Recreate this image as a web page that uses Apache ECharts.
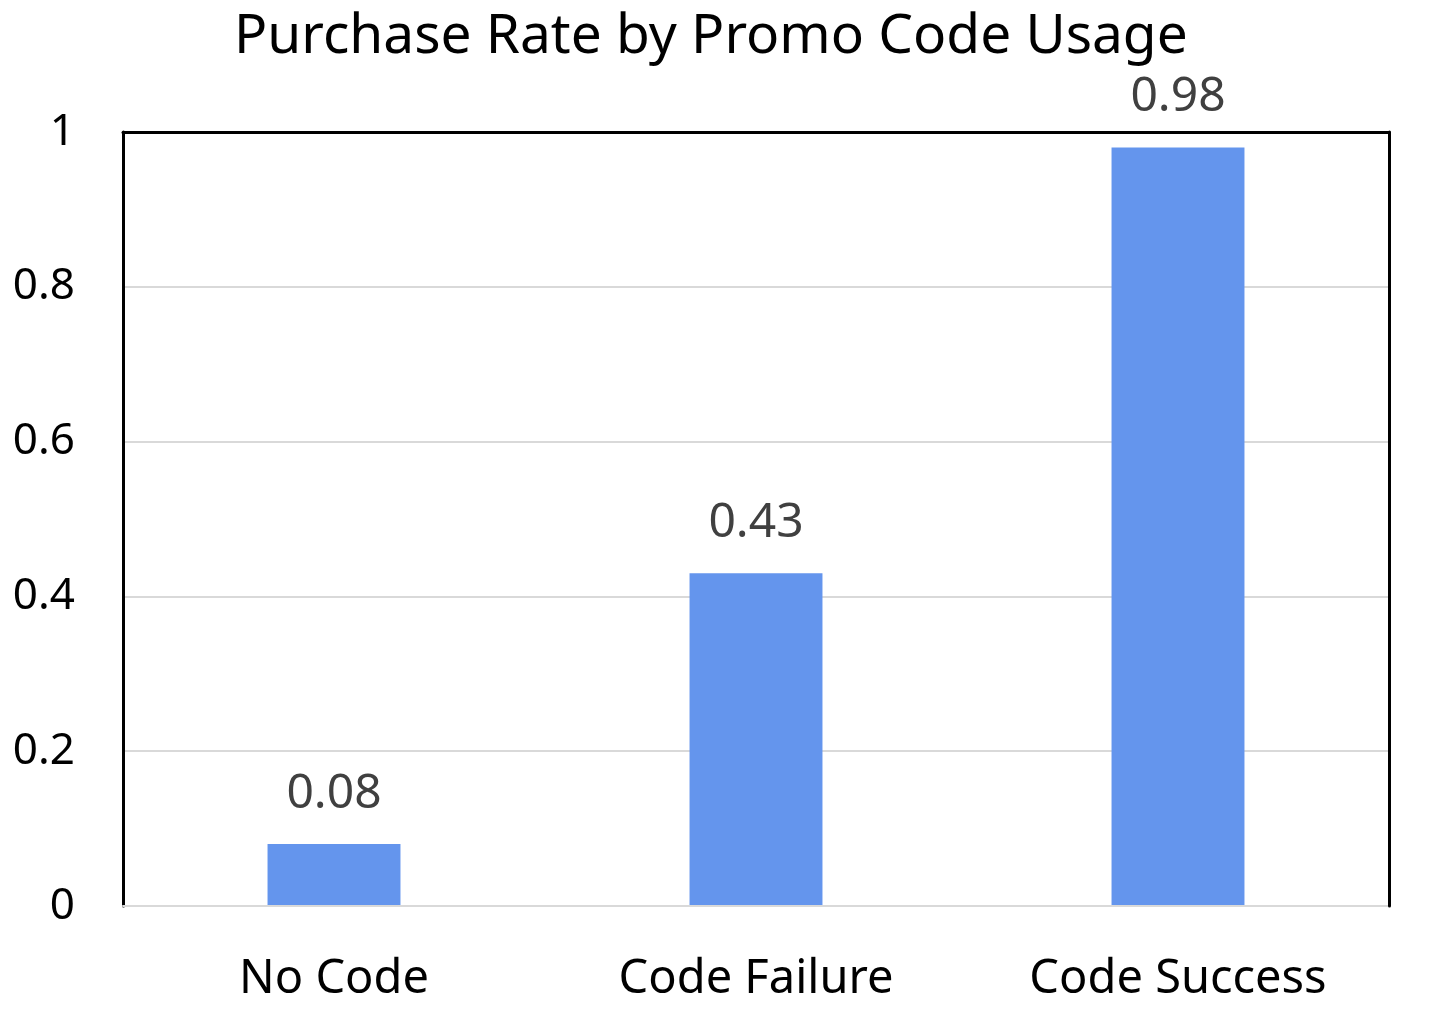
<!DOCTYPE html>
<html>
<head>
<meta charset="utf-8">
<script src="https://cdn.jsdelivr.net/npm/echarts@6/dist/echarts.min.js"></script>
<style>
html,body{margin:0;padding:0;background:#fff;}
#chart{width:1436px;height:1034px;}
</style>
</head>
<body>
<div id="chart"></div>
<script>
const titleText = 'Purchase Rate by Promo Code Usage';
const categories = ['No Code', 'Code Failure', 'Code Success'];
const purchaseRate = [0.08, 0.43, 0.98];
const yTicks = { min: 0, max: 1, interval: 0.2 };

const FONT = '"Noto Sans", "Open Sans", sans-serif';
const chart = echarts.init(document.getElementById('chart'), null, {renderer: 'canvas'});
chart.setOption({
  backgroundColor: '#ffffff',
  animation: false,
  title: {
    text: titleText,
    left: 229,
    top: 5,
    textStyle: { fontFamily: FONT, fontSize: 55, fontWeight: 'normal', color: '#000' }
  },
  grid: { left: 123, right: 47, top: 132, bottom: 128, containLabel: false },
  xAxis: [{
    type: 'category',
    data: categories,
    position: 'bottom',
    axisLine: { show: true, onZero: false, lineStyle: { color: '#d9d9d9', width: 2 } },
    axisTick: { show: false },
    axisLabel: { fontFamily: FONT, fontSize: 47, color: '#000', margin: 50 },
    z: 5
  }, {
    type: 'category',
    data: categories,
    position: 'top',
    axisLine: { show: true, onZero: false, lineStyle: { color: '#000', width: 3 } },
    axisTick: { show: false },
    axisLabel: { show: false },
    z: 10
  }],
  yAxis: [{
    type: 'value',
    min: yTicks.min, max: yTicks.max, interval: yTicks.interval,
    position: 'left',
    axisLine: { show: true, onZero: false, lineStyle: { color: '#000', width: 3 } },
    axisTick: { show: false },
    axisLabel: { fontFamily: FONT, fontSize: 44, color: '#000', margin: 48 },
    splitLine: { show: true, lineStyle: { color: '#d9d9d9', width: 2 } }
  }, {
    type: 'value',
    min: yTicks.min, max: yTicks.max, interval: yTicks.interval,
    position: 'right',
    axisLine: { show: true, onZero: false, lineStyle: { color: '#000', width: 3 } },
    axisTick: { show: false },
    axisLabel: { show: false },
    splitLine: { show: false },
    z: 10
  }],
  series: [{
    type: 'bar',
    data: purchaseRate,
    barWidth: '31.5%',
    itemStyle: { color: '#6495ED' },
    label: {
      show: true,
      position: 'top',
      distance: 26,
      fontFamily: FONT,
      fontSize: 48,
      color: '#404040'
    }
  }]
});
</script>
</body>
</html>
